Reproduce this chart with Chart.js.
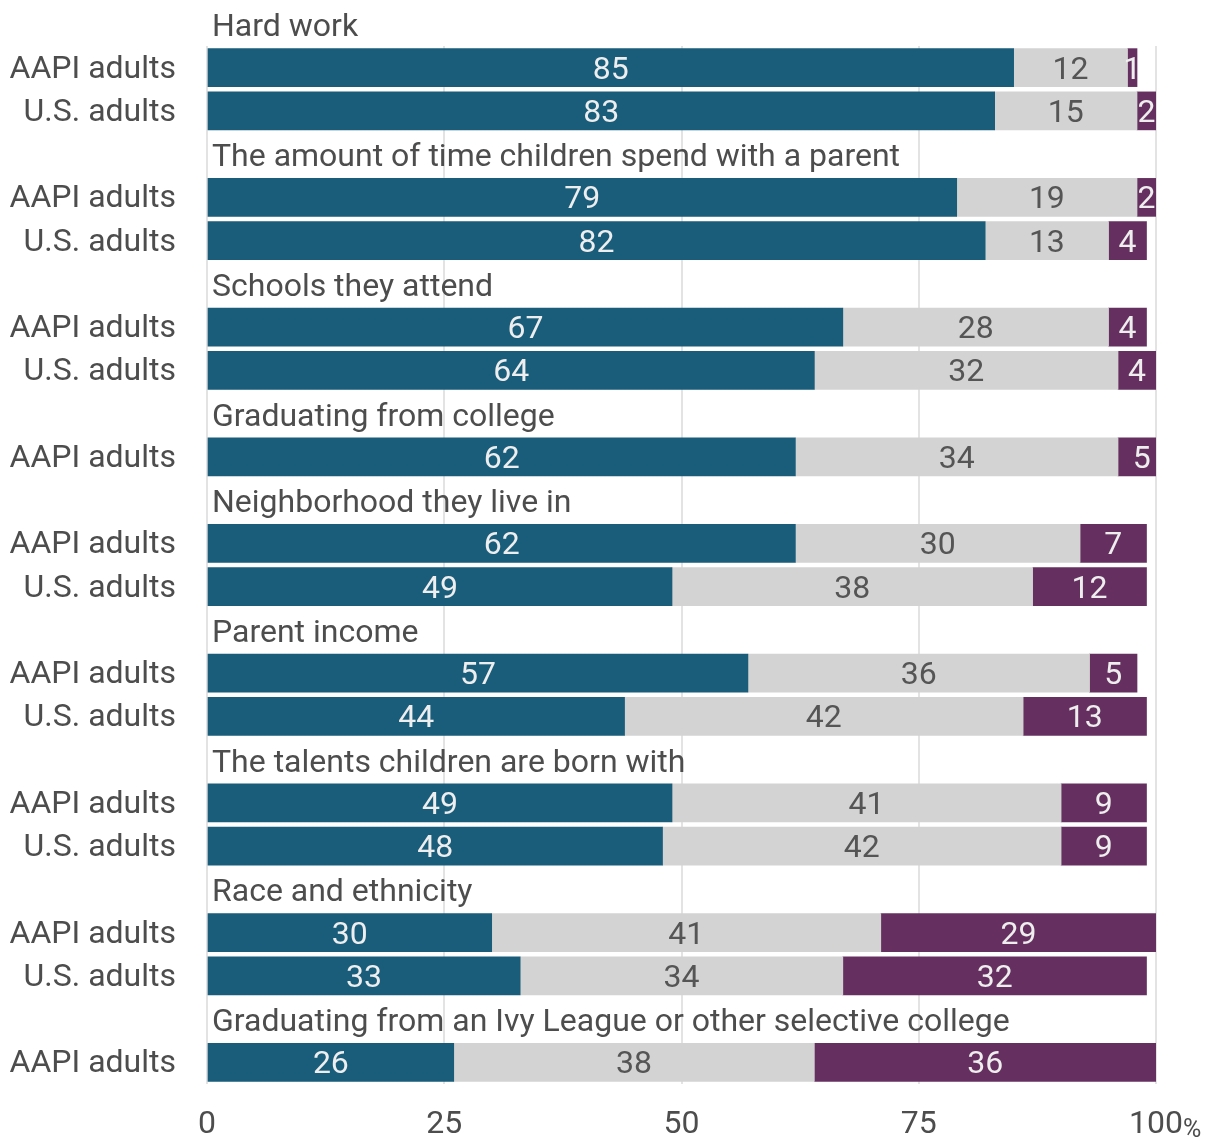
<!DOCTYPE html>
<html>
<head>
<meta charset="utf-8">
<script src="https://cdn.jsdelivr.net/npm/chart.js@4.4.1/dist/chart.umd.min.js"></script>
<style>
  html, body { margin: 0; padding: 0; background: #fff; }
  #wrap { width: 1208px; height: 1137px; position: relative; }
</style>
</head>
<body>
<div id="wrap"><canvas id="roleChart"></canvas></div>
<script>
// Group headings and the rows under each one
const groupTitles = [
  'Hard work',
  'The amount of time children spend with a parent',
  'Schools they attend',
  'Graduating from college',
  'Neighborhood they live in',
  'Parent income',
  'The talents children are born with',
  'Race and ethnicity',
  'Graduating from an Ivy League or other selective college'
];
const rowLabels = [
  'AAPI adults', 'U.S. adults',
  'AAPI adults', 'U.S. adults',
  'AAPI adults', 'U.S. adults',
  'AAPI adults',
  'AAPI adults', 'U.S. adults',
  'AAPI adults', 'U.S. adults',
  'AAPI adults', 'U.S. adults',
  'AAPI adults', 'U.S. adults',
  'AAPI adults'
];
const rowGroup = [0, 0, 1, 1, 2, 2, 3, 4, 4, 5, 5, 6, 6, 7, 7, 8];

// Shares (%) per row
const majorRole = [85, 83, 79, 82, 67, 64, 62, 62, 49, 57, 44, 49, 48, 30, 33, 26];
const minorRole = [12, 15, 19, 13, 28, 32, 34, 30, 38, 36, 42, 41, 42, 41, 34, 38];
const noRole    = [1, 2, 2, 4, 4, 4, 5, 7, 12, 5, 13, 9, 9, 29, 32, 36];

const xTicks = [0, 25, 50, 75, 100];

const TEXT = '#4d4d4d';
const FONT = 'Roboto, "Noto Sans", sans-serif';
const SIZE = 32;

// Expand into category slots: a heading slot followed by its rows
const slotLabels = [];
const slotTitle = [];
const slotRow = [];
rowLabels.forEach((lab, i) => {
  if (i === 0 || rowGroup[i] !== rowGroup[i - 1]) {
    slotLabels.push('');
    slotTitle.push(groupTitles[rowGroup[i]]);
    slotRow.push(null);
  }
  slotLabels.push(lab);
  slotTitle.push(null);
  slotRow.push(i);
});
const pick = arr => slotRow.map(r => (r === null ? null : arr[r]));

// Draws group headings, segment values and the % sign on the last tick
const overlayPlugin = {
  id: 'overlay',
  afterDatasetsDraw(chart) {
    const { ctx, scales: { x, y } } = chart;
    ctx.save();
    ctx.font = SIZE + 'px ' + FONT;
    ctx.textBaseline = 'middle';

    ctx.textAlign = 'left';
    ctx.fillStyle = TEXT;
    slotTitle.forEach((t, i) => {
      if (t) ctx.fillText(t, 212, y.getPixelForValue(i) + 4);
    });

    ctx.textAlign = 'center';
    chart.data.datasets.forEach((ds, di) => {
      const meta = chart.getDatasetMeta(di);
      meta.data.forEach((bar, i) => {
        const v = ds.data[i];
        if (v === null || v === undefined) return;
        ctx.fillStyle = ds.labelColor;
        ctx.fillText(String(v), (bar.x + bar.base) / 2, bar.y + 3);
      });
    });

    // small % after the 100 tick
    const px = x.getPixelForValue(100);
    const w = ctx.measureText('100').width;
    ctx.font = '25px ' + FONT;
    ctx.textAlign = 'left';
    ctx.textBaseline = 'alphabetic';
    ctx.fillStyle = TEXT;
    ctx.fillText('%', px + w / 2, 1137);
    ctx.restore();
  }
};

new Chart(document.getElementById('roleChart'), {
  type: 'bar',
  data: {
    labels: slotLabels,
    datasets: [
      { label: 'Major role', data: pick(majorRole), backgroundColor: '#195d7b', labelColor: '#eeeeee' },
      { label: 'Minor role', data: pick(minorRole), backgroundColor: '#d3d3d3', labelColor: '#555555' },
      { label: 'No role', data: pick(noRole), backgroundColor: '#653060', labelColor: '#eeeeee' }
    ]
  },
  options: {
    indexAxis: 'y',
    responsive: true,
    maintainAspectRatio: false,
    animation: false,
    layout: { padding: { top: 46, right: 52, left: 0, bottom: 0 } },
    datasets: { bar: { barThickness: 38, borderWidth: 0 } },
    plugins: { legend: { display: false }, tooltip: { enabled: false } },
    scales: {
      x: {
        stacked: true,
        min: 0,
        max: 100,
        afterBuildTicks: s => { s.ticks = xTicks.map(v => ({ value: v })); },
        afterFit: s => { s.height = 53; },
        grid: { color: '#e3e3e3', lineWidth: 2, drawTicks: false },
        border: { display: false },
        ticks: { padding: 22, color: TEXT, font: { family: FONT, size: SIZE }, maxRotation: 0 }
      },
      y: {
        stacked: true,
        min: 1,
        afterFit: s => { s.width = 207; s.paddingTop = 0; s.paddingBottom = 0; },
        grid: { display: false, drawTicks: false },
        border: { display: false },
        ticks: { padding: 31, labelOffset: 2, color: TEXT, font: { family: FONT, size: SIZE }, autoSkip: false }
      }
    }
  },
  plugins: [overlayPlugin]
});
</script>
</body>
</html>
